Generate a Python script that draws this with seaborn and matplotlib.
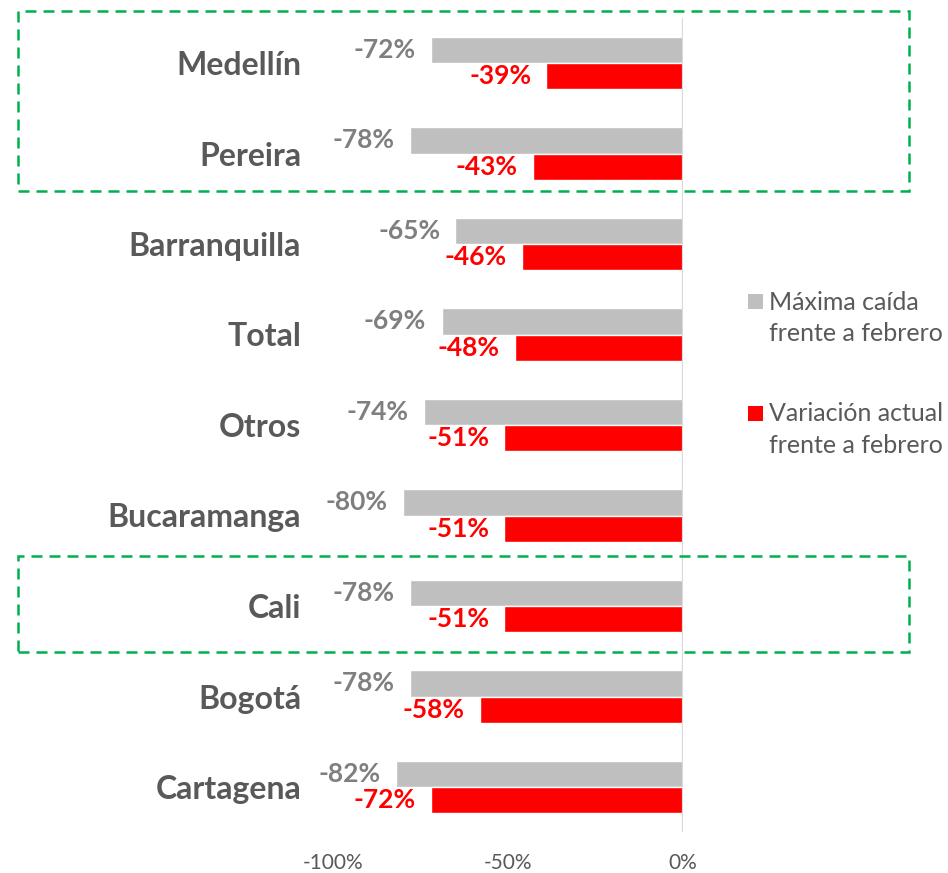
import matplotlib
matplotlib.use("Agg")
import matplotlib.pyplot as plt
import seaborn as sns
import pandas as pd
from matplotlib.patches import Rectangle

# ---- data ----
cities = ["Medellín", "Pereira", "Barranquilla", "Total", "Otros",
          "Bucaramanga", "Cali", "Bogotá", "Cartagena"]
max_drop = [-0.72, -0.78, -0.65, -0.69, -0.74, -0.80, -0.78, -0.78, -0.82]
current = [-0.39, -0.43, -0.46, -0.48, -0.51, -0.51, -0.51, -0.58, -0.72]
series = ["Máxima caída frente a febrero", "Variación actual frente a febrero"]
legend_lines = [["Máxima caída", "frente a febrero"],
                ["Variación actual", "frente a febrero"]]
x_ticks = [-1.0, -0.5, 0.0]
x_tick_labels = ["-100%", "-50%", "0%"]

bar_colors = ["#BFBFBF", "#FF0000"]
label_colors = ["#7F7F7F", "#FF0000"]
text_gray = "#595959"
green = "#00B050"

df = pd.DataFrame({
    "city": cities * 2,
    "value": max_drop + current,
    "serie": [series[0]] * len(cities) + [series[1]] * len(cities),
})

sns.set_theme(style="white")
plt.rcParams["font.family"] = ["Lato", "DejaVu Sans"]

W, H = 948, 873
fig = plt.figure(figsize=(W / 100, H / 100), dpi=100)
ax = fig.add_axes([333 / W, 1 - 832.25 / H, 350 / W, (832.25 - 17.75) / H])

sns.barplot(data=df, y="city", x="value", hue="serie", order=cities,
            hue_order=series, palette=bar_colors, orient="h",
            width=0.575, gap=0, saturation=1, ax=ax, legend=False)

ax.set_xlim(-1.0, 0.0)
ax.set_ylim(len(cities) - 0.5, -0.5)
ax.set_xticks(x_ticks)
ax.set_xticklabels(x_tick_labels)
ax.set_xlabel("")
ax.set_ylabel("")
for s in ax.spines.values():
    s.set_visible(False)
ax.axvline(0, color="#D9D9D9", lw=1.6, zorder=5)

ax.tick_params(axis="x", length=0, pad=15, labelsize=15, labelcolor=text_gray)
ax.tick_params(axis="y", length=0, pad=23, labelsize=23, labelcolor=text_gray)
for t in ax.get_yticklabels():
    t.set_fontweight("bold")

for cont, col, vals in zip(ax.containers, label_colors, [max_drop, current]):
    ax.bar_label(cont, labels=[f"{v * 100:.0f}%" for v in vals], padding=11,
                 color=col, fontsize=19, fontweight="bold")

# legend (manual, Excel-like)
legend_y = [(294, [310, 341]), (406, [421, 453])]
for (sq_top, baselines), col, lines in zip(legend_y, bar_colors, legend_lines):
    fig.patches.append(Rectangle((748 / W, 1 - (sq_top + 15) / H), 15 / W, 15 / H,
                                 transform=fig.transFigure, facecolor=col,
                                 edgecolor="none"))
    for b, line in zip(baselines, lines):
        fig.text(769 / W, 1 - b / H, line, fontsize=18, color=text_gray,
                 ha="left", va="baseline")

# dashed highlight boxes
for top, bottom in [(11, 191), (556, 652)]:
    fig.patches.append(Rectangle((18 / W, 1 - bottom / H), 891 / W, (bottom - top) / H,
                                 transform=fig.transFigure, fill=False,
                                 edgecolor=green, lw=1.8,
                                 linestyle=(0, (4.4, 2.8))))

fig.savefig("out.png", dpi=100)
